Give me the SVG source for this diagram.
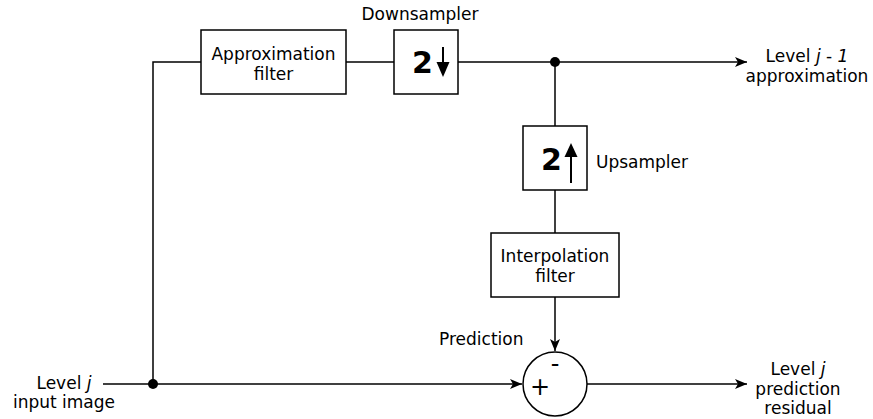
<svg xmlns="http://www.w3.org/2000/svg" width="873" height="419" viewBox="0 0 873 419">
  <style>
    .box { fill: #ffffff; stroke: #000000; stroke-width: 1.5; }
    .wire { fill: none; stroke: #000000; stroke-width: 1.5; }
    .stem { fill: none; stroke: #000000; stroke-width: 2; }
    .lbl { font-family: "DejaVu Sans", Verdana, sans-serif; font-size: 17px; fill: #000000; }
    .big { font-family: "DejaVu Sans", Verdana, sans-serif; font-size: 30px; font-weight: bold; fill: #000000; }
    .sign { font-family: "DejaVu Sans", Verdana, sans-serif; font-size: 24px; fill: #000000; }
    .mid { text-anchor: middle; }
    .it { font-style: italic; }
  </style>
  <defs>
    <marker id="arr" markerUnits="userSpaceOnUse" markerWidth="14" markerHeight="12" refX="12" refY="6" orient="auto">
      <path d="M0,1 L12,6 L0,11 L3,6 z" fill="#000000"/>
    </marker>
  </defs>
  <rect width="873" height="419" fill="#ffffff"/>

  <g id="connectors">
    <path class="wire" d="M103,384 H522" marker-end="url(#arr)"/>
    <path class="wire" d="M153,384 V62 H201"/>
    <path class="wire" d="M346,62 H394"/>
    <path class="wire" d="M458,62 H747" marker-end="url(#arr)"/>
    <path class="wire" d="M555,62 V126"/>
    <path class="wire" d="M555,190 V233"/>
    <path class="wire" d="M555,297 V351" marker-end="url(#arr)"/>
    <path class="wire" d="M587,384 H747" marker-end="url(#arr)"/>
    <circle cx="153" cy="384" r="5" fill="#000000"/>
    <circle cx="555" cy="62" r="5" fill="#000000"/>
  </g>

  <g id="approx-filter">
    <rect class="box" x="201" y="30" width="145" height="64"/>
    <text class="lbl mid" x="273.5" y="60">Approximation</text>
    <text class="lbl mid" x="273.5" y="80">filter</text>
  </g>

  <g id="downsampler">
    <rect class="box" x="394" y="30" width="64" height="64"/>
    <text class="big" x="412" y="73">2</text>
    <path class="stem" d="M443,47 V64"/>
    <path d="M436.5,62 H449.5 L443,77 z" fill="#000000"/>
    <text class="lbl mid" x="420" y="20">Downsampler</text>
  </g>

  <g id="upsampler">
    <rect class="box" x="523" y="126" width="64" height="64"/>
    <text class="big" x="541" y="170">2</text>
    <path class="stem" d="M571,183 V155"/>
    <path d="M564.5,157 H577.5 L571,143 z" fill="#000000"/>
    <text class="lbl" x="596" y="168">Upsampler</text>
  </g>

  <g id="interp-filter">
    <rect class="box" x="491" y="233" width="128" height="64"/>
    <text class="lbl mid" x="555" y="262">Interpolation</text>
    <text class="lbl mid" x="555" y="282">filter</text>
  </g>

  <g id="summer">
    <circle class="box" cx="555" cy="384" r="32"/>
    <text class="sign mid" x="555" y="372">-</text>
    <text class="sign mid" x="540" y="395">+</text>
    <text class="lbl" x="439" y="345">Prediction</text>
  </g>

  <g id="input-label">
    <text class="lbl mid" x="64" y="389">Level <tspan class="it">j</tspan></text>
    <text class="lbl mid" x="64" y="408">input image</text>
  </g>

  <g id="approx-out-label">
    <text class="lbl mid" x="807" y="62">Level <tspan class="it">j</tspan> - <tspan class="it">1</tspan></text>
    <text class="lbl mid" x="807" y="82">approximation</text>
  </g>

  <g id="residual-label">
    <text class="lbl mid" x="798" y="375">Level <tspan class="it">j</tspan></text>
    <text class="lbl mid" x="798" y="395">prediction</text>
    <text class="lbl mid" x="798" y="414">residual</text>
  </g>
</svg>
